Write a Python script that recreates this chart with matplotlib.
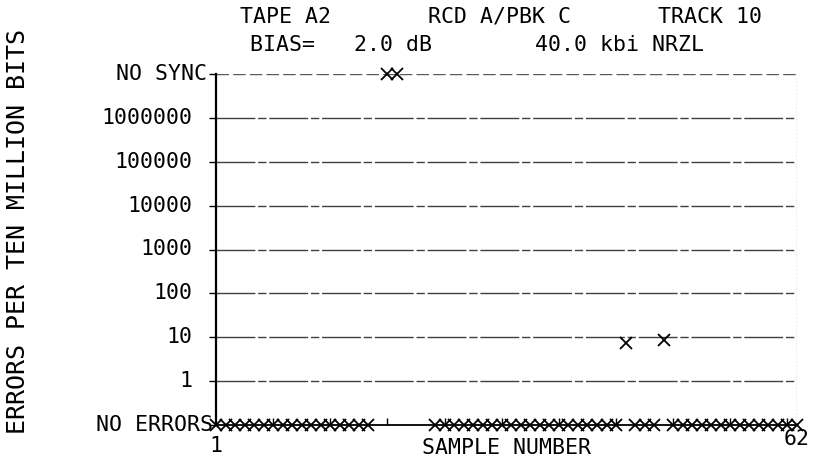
import matplotlib
matplotlib.use("Agg")
import matplotlib.pyplot as plt
import numpy as np

# error counts per sample: 0 = no errors, "SYNC" = no sync, None = not plotted
samples = list(range(1, 63))
errors = ([0] * 17 + [None, "SYNC", "SYNC", None, None, None]
          + [0] * 20 + [7.4, 0, 0, 0, 8.7] + [0] * 14)

level_labels = ["NO ERRORS", "1", "10", "100", "1000", "10000",
                "100000", "1000000", "NO SYNC"]
x_tick_samples = [7, 13, 19, 25, 31, 37, 43, 49, 55, 61]

title1 = ["TAPE A2", "RCD A/PBK C", "TRACK 10"]
title2 = ["BIAS=   2.0 dB", "40.0 kbi NRZL"]


def to_level(v):
    # plotter scale: NO ERRORS at 0, decades 1..7, NO SYNC at 8
    if v is None:
        return np.nan
    if v == "SYNC":
        return 8
    if v == 0:
        return 0
    return np.log10(v) + 1


font = "DejaVu Sans Mono"
fs = 15.5

fig = plt.figure(figsize=(8.14, 4.63), dpi=100)
ax = fig.add_axes([216 / 814, 1 - 425 / 463, 581 / 814, 351 / 463])

levels = [to_level(v) for v in errors]
ax.plot(samples, levels, ls="none", marker="x", color="black",
        ms=8, mew=1.3, clip_on=False, zorder=5)

ax.set_xlim(1, 62)
ax.set_ylim(0, 8)

# broken plotter grid lines
for lv in range(1, 8):
    ax.axhline(lv, color="0.25", lw=1.0, dashes=(28, 2, 6, 2), zorder=1)
ax.axhline(8, color="0.35", lw=1.0, dashes=(9, 3), zorder=1)
ax.axvline(62, color="0.55", lw=1.0, ls=":", zorder=1)

for s in ["top", "right"]:
    ax.spines[s].set_visible(False)
ax.spines["left"].set_linewidth(1.6)
ax.spines["bottom"].set_linewidth(1.3)

ax.set_yticks(range(0, 9))
ax.set_yticklabels([])
ax.tick_params(axis="y", direction="out", length=5, width=1)
ax.set_xticks(x_tick_samples)
ax.set_xticklabels([])
ax.tick_params(axis="x", direction="in", length=5, width=1)

ytr = ax.get_yaxis_transform()
for lv, lab in enumerate(level_labels):
    if lab == "NO ERRORS":
        xo = -0.005
    elif lab == "NO SYNC":
        xo = -0.015
    else:
        xo = -0.04
    ax.text(xo, lv, lab, transform=ytr, ha="right", va="center",
            family=font, fontsize=fs)

xtr = ax.get_xaxis_transform()
ax.text(1, -0.03, "1", transform=xtr, ha="center", va="top",
        family=font, fontsize=fs)
ax.text(62, -0.012, "62", transform=xtr, ha="center", va="top",
        family=font, fontsize=fs)
ax.text(0.5, -0.038, "SAMPLE NUMBER", transform=ax.transAxes, ha="center",
        va="top", family=font, fontsize=fs)

fig.text(240 / 814, 1 - 17 / 463, title1[0], ha="left", va="center",
         family=font, fontsize=fs)
fig.text(428 / 814, 1 - 17 / 463, title1[1], ha="left", va="center",
         family=font, fontsize=fs)
fig.text(762 / 814, 1 - 17 / 463, title1[2], ha="right", va="center",
         family=font, fontsize=fs)
fig.text(250 / 814, 1 - 45 / 463, title2[0], ha="left", va="center",
         family=font, fontsize=fs)
fig.text(535 / 814, 1 - 45 / 463, title2[1], ha="left", va="center",
         family=font, fontsize=fs)

fig.text(18 / 814, 0.5, "ERRORS PER TEN MILLION BITS", rotation=90,
         ha="center", va="center", family=font, fontsize=18)

fig.savefig("out.png", dpi=100)
